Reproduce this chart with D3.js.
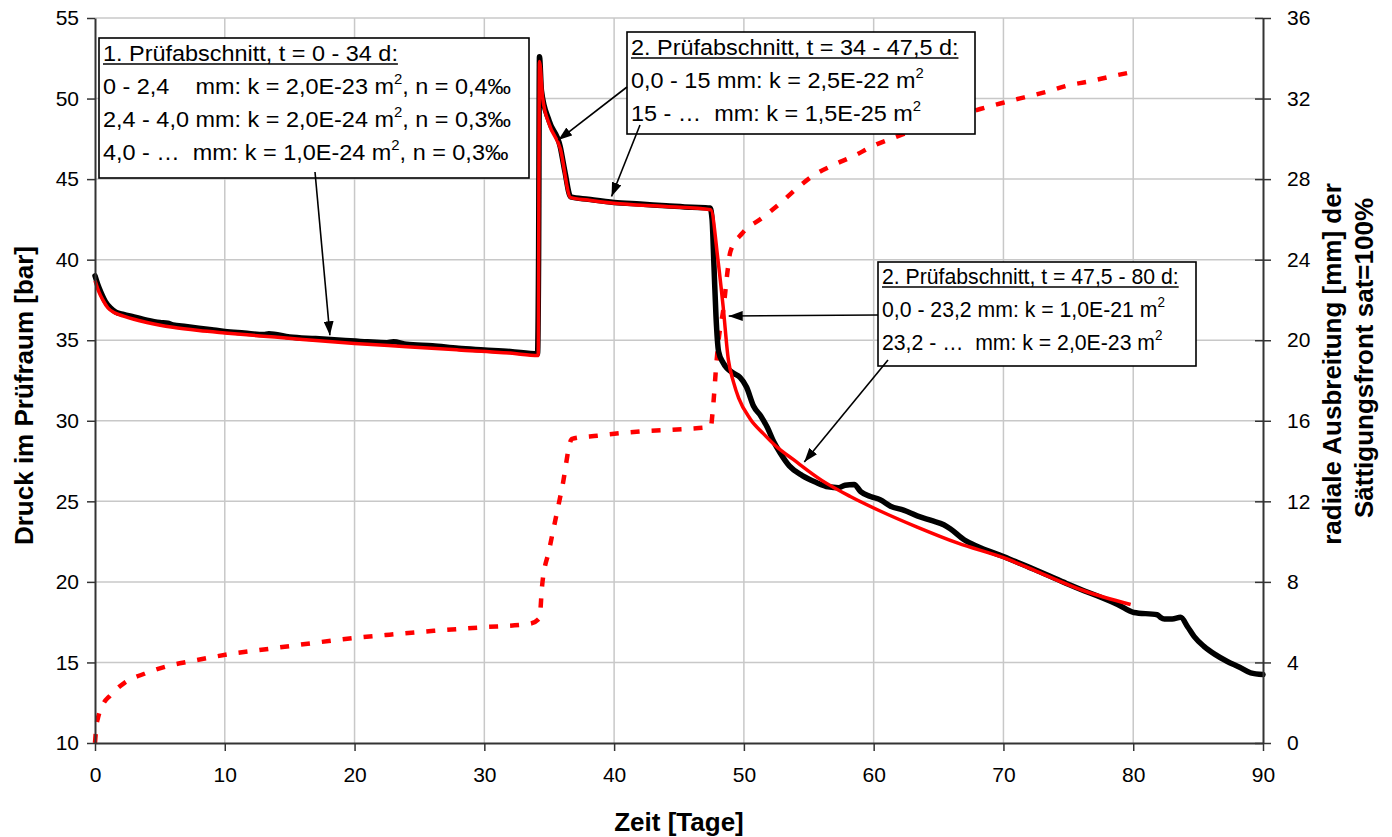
<!DOCTYPE html>
<html>
<head>
<meta charset="utf-8">
<script src="https://cdn.jsdelivr.net/npm/d3@7"></script>
<style>
  html, body { margin: 0; padding: 0; background: #fff; }
  svg text { font-family: "Liberation Sans", Arial, sans-serif; }
</style>
</head>
<body>
<script>
// Zeit [Tage] / Druck [bar] – Messung
const measT = [0, 0.2, 0.5, 0.8, 1.2, 1.6, 2.2, 3, 4, 5, 5.6, 6, 7, 8, 9, 10, 11.5, 13, 13.4, 15, 17, 19, 21, 22.5, 23, 24, 26, 28, 30, 32, 34.1,
  34.18, 34.25, 34.4, 35.0, 35.85, 36.2, 36.65, 38, 40, 42, 44, 46, 47.4,
  47.55, 47.7, 47.85, 48.05, 48.4, 49.2, 49.7, 50.2, 50.75, 51.3, 51.8, 52.3, 52.8, 53.5, 54.5, 55.5, 56.5, 57.3, 57.8, 58.5, 59.0, 59.75,
  60.5, 61.3, 62.3, 63.35, 64.5, 65.4, 65.9, 67, 68, 70, 72, 73.6, 75, 76.2, 77.5, 78.8, 80.05, 81.85, 82.1, 82.4, 83.0, 83.65, 84.2, 84.7,
  85.45, 86.3, 87.25, 88.2, 89.05, 90];
const measP = [39.0, 38.5, 37.9, 37.4, 37.0, 36.75, 36.6, 36.45, 36.25, 36.1, 36.05, 35.95, 35.85, 35.75, 35.65, 35.55, 35.45, 35.35, 35.4, 35.2, 35.1, 35.0, 34.9, 34.85, 34.9, 34.75, 34.65, 34.5, 34.4, 34.3, 34.15,
  40.0, 52.6, 50.5, 48.6, 47.0, 45.5, 43.9, 43.75, 43.55, 43.45, 43.35, 43.25, 43.2,
  42.5, 39.5, 36.5, 34.3, 33.6, 32.95, 32.7, 32.1, 30.9, 30.3, 29.6, 28.7, 28.0, 27.2, 26.6, 26.2, 25.9, 25.85, 26.0, 26.05, 25.6, 25.3,
  25.1, 24.7, 24.45, 24.1, 23.8, 23.55, 23.3, 22.6, 22.2, 21.58, 20.9, 20.35, 19.85, 19.45, 19.05, 18.6, 18.1, 17.96, 17.8, 17.7, 17.7, 17.8, 17.2, 16.6,
  16.0, 15.5, 15.06, 14.7, 14.35, 14.25];

// Berechnung (Anpassung)
const fitT = [0, 0.3, 0.6, 1.0, 1.5, 2.2, 3, 4, 6, 8, 10, 13, 16, 20, 24, 28, 32, 34.15,
  34.25, 34.5, 35.0, 35.85, 36.65, 38, 40, 44, 47.45,
  48.0, 48.4, 48.8, 49.2, 49.6, 50.5, 51.5, 52.5, 53.8, 56, 58.2, 60.5, 63.35, 66.5, 70, 73, 76.2, 79.8];
const fitP = [38.7, 38.0, 37.5, 37.0, 36.7, 36.5, 36.3, 36.1, 35.8, 35.6, 35.45, 35.25, 35.05, 34.8, 34.6, 34.4, 34.2, 34.05,
  52.3, 50.0, 48.4, 46.9, 43.85, 43.7, 43.5, 43.3, 43.1,
  40.0, 37.1, 33.8, 32.4, 31.4, 30.1, 29.2, 28.4, 27.6, 26.3, 25.3, 24.4, 23.4, 22.4, 21.5, 20.5, 19.45, 18.6];

// radiale Ausbreitung der Sättigungsfront [mm]
const frontT = [0, 0.1, 0.25, 0.6, 1.16, 2.3, 3.85, 5.5, 7.3, 9.1, 10.7, 12.5, 15.8, 19.1, 22.7, 26.1, 29.7, 33.5,
  34.25, 34.45, 35.0, 36.0, 36.75, 38.7, 42.0, 45.6, 47.45,
  47.6, 47.9, 48.05, 48.45, 48.7, 48.96, 49.86, 51.4, 52.8, 54.1, 55.4, 56.9, 58.5, 60.0, 61.7, 65.0, 68.2, 69.9, 71.6, 73.4, 74.9, 76.6, 78.3, 79.8];
const frontMM = [0, 0.8, 1.3, 1.9, 2.35, 3.0, 3.45, 3.8, 4.05, 4.27, 4.45, 4.6, 4.88, 5.15, 5.38, 5.57, 5.74, 5.92,
  6.2, 7.8, 9.6, 12.7, 15.1, 15.26, 15.47, 15.6, 15.7,
  16.5, 19.0, 20.0, 21.7, 23.2, 24.4, 25.3, 26.07, 26.8, 27.55, 28.2, 28.7, 29.16, 29.66, 30.09, 30.85, 31.48, 31.78, 32.06, 32.35, 32.64, 32.85, 33.1, 33.3];

const xTicks = [0, 10, 20, 30, 40, 50, 60, 70, 80, 90];
const yLeftTicks = [10, 15, 20, 25, 30, 35, 40, 45, 50, 55];
const yRightTicks = [0, 4, 8, 12, 16, 20, 24, 28, 32, 36];

// Textfelder: Zeilen aus [Text, hochgestellt?]
const box1Lines = [
  [["1. Prüfabschnitt, t = 0 - 34 d:", false]],
  [["0 - 2,4    mm: k = 2,0E-23 m", false], ["2", true], [", n = 0,4‰", false]],
  [["2,4 - 4,0 mm: k = 2,0E-24 m", false], ["2", true], [", n = 0,3‰", false]],
  [["4,0 - …  mm: k = 1,0E-24 m", false], ["2", true], [", n = 0,3‰", false]]
];
const box2Lines = [
  [["2. Prüfabschnitt, t = 34 - 47,5 d:", false]],
  [["0,0 - 15 mm: k = 2,5E-22 m", false], ["2", true]],
  [["15 - …  mm: k = 1,5E-25 m", false], ["2", true]]
];
const box3Lines = [
  [["2. Prüfabschnitt, t = 47,5 - 80 d:", false]],
  [["0,0 - 23,2 mm: k = 1,0E-21 m", false], ["2", true]],
  [["23,2 - …  mm: k = 2,0E-23 m", false], ["2", true]]
];

const W = 1392, H = 837;
const svg = d3.select("body").append("svg").attr("width", W).attr("height", H);
svg.append("rect").attr("width", W).attr("height", H).attr("fill", "#fff");

const x = d3.scaleLinear().domain([0, 90]).range([95, 1263]);
const yL = d3.scaleLinear().domain([10, 55]).range([743, 18]);
const yR = d3.scaleLinear().domain([0, 36]).range([743, 18]);

// Gitternetz
const grid = svg.append("g").attr("stroke", "#c8c8c8").attr("stroke-width", 1.5);
grid.selectAll("line.v").data(xTicks.filter(d => d > 0 && d < 90)).join("line")
  .attr("x1", d => x(d)).attr("x2", d => x(d)).attr("y1", yL(55)).attr("y2", yL(10));
grid.selectAll("line.h").data(yLeftTicks.filter(d => d > 10)).join("line")
  .attr("x1", x(0)).attr("x2", x(90)).attr("y1", d => yL(d)).attr("y2", d => yL(d));

// Sättigungsfront (rechte Achse)
const frontData = frontT.map((t, i) => [t, frontMM[i]]);
svg.append("path").datum(frontData)
  .attr("fill", "none").attr("stroke", "#ff0000").attr("stroke-width", 4.5)
  .attr("stroke-dasharray", "9,12")
  .attr("d", d3.line().x(d => x(d[0])).y(d => yR(d[1])).curve(d3.curveMonotoneX));

// Messung
const measData = measT.map((t, i) => [t, measP[i]]);
svg.append("path").datum(measData)
  .attr("fill", "none").attr("stroke", "#000").attr("stroke-width", 5.5)
  .attr("stroke-linejoin", "round").attr("stroke-linecap", "round")
  .attr("d", d3.line().x(d => x(d[0])).y(d => yL(d[1])).curve(d3.curveMonotoneX));

// Berechnung
const fitData = fitT.map((t, i) => [t, fitP[i]]);
svg.append("path").datum(fitData)
  .attr("fill", "none").attr("stroke", "#ff0000").attr("stroke-width", 3.5)
  .attr("stroke-linejoin", "round")
  .attr("d", d3.line().x(d => x(d[0])).y(d => yL(d[1])).curve(d3.curveMonotoneX));

// Achsen
const fontSize = 21;
const axL = svg.append("g").attr("transform", `translate(${x(0)},0)`)
  .call(d3.axisLeft(yL).tickValues(yLeftTicks).tickSize(8).tickSizeOuter(0).tickPadding(8).tickFormat(d3.format("d")));
const axR = svg.append("g").attr("transform", `translate(${x(90)},0)`)
  .call(d3.axisRight(yR).tickValues(yRightTicks).tickSize(8).tickSizeOuter(0).tickPadding(16).tickFormat(d3.format("d")));
axR.selectAll(".tick line").attr("x1", -8);
const axB = svg.append("g").attr("transform", `translate(0,${yL(10)})`)
  .call(d3.axisBottom(x).tickValues(xTicks).tickSize(8).tickSizeOuter(0).tickPadding(16).tickFormat(d3.format("d")));
[axL, axR, axB].forEach(a => {
  a.select(".domain").attr("stroke", "#333").attr("stroke-width", 2);
  a.selectAll(".tick line").attr("stroke", "#333").attr("stroke-width", 1.5);
  a.selectAll(".tick text").attr("font-size", fontSize).attr("fill", "#000")
    .attr("font-family", "Liberation Sans, Arial, sans-serif");
});

// Achsentitel
svg.append("text").attr("transform", `translate(33,${(yL(10) + yL(55)) / 2 + 15}) rotate(-90)`)
  .attr("text-anchor", "middle").attr("font-size", 26).attr("font-weight", "bold")
  .text("Druck im Prüfraum [bar]");
svg.append("text").attr("x", (x(0) + x(90)) / 2).attr("y", 831)
  .attr("text-anchor", "middle").attr("font-size", 26).attr("font-weight", "bold")
  .text("Zeit [Tage]");
svg.append("text").attr("transform", `translate(1341,364) rotate(-90)`)
  .attr("text-anchor", "middle").attr("font-size", 26).attr("font-weight", "bold")
  .text("radiale Ausbreitung [mm] der");
svg.append("text").attr("transform", `translate(1373,358) rotate(-90)`)
  .attr("text-anchor", "middle").attr("font-size", 26).attr("font-weight", "bold")
  .text("Sättigungsfront sat=100%");

// Pfeilspitze
svg.append("defs").append("marker")
  .attr("id", "head").attr("markerUnits", "userSpaceOnUse")
  .attr("viewBox", "0 0 14 10").attr("refX", 14).attr("refY", 5)
  .attr("markerWidth", 14).attr("markerHeight", 10).attr("orient", "auto")
  .append("path").attr("d", "M0,0 L14,5 L0,10 Z").attr("fill", "#000");

function textBox(x0, y0, x1, y1, tx, baselines, lines, stretch) {
  const g = svg.append("g");
  g.append("rect").attr("x", x0).attr("y", y0).attr("width", x1 - x0).attr("height", y1 - y0)
    .attr("fill", "#fff").attr("stroke", "#000").attr("stroke-width", 1.6);
  lines.forEach((parts, i) => {
    const t = g.append("text").attr("x", 0).attr("y", baselines[i])
      .attr("transform", `translate(${tx},0) scale(${stretch},1)`)
      .attr("font-size", 22).attr("fill", "#000").style("white-space", "pre");
    parts.forEach(([s, sup]) => {
      if (sup) {
        t.append("tspan").attr("font-size", 14).attr("dy", -10).text(s);
      } else {
        const sp = t.append("tspan").text(s);
        if (t.selectAll("tspan").size() > 1) sp.attr("dy", 10);
      }
    });
    if (i === 0) {
      const w = t.node().getComputedTextLength() * stretch;
      g.append("line").attr("x1", tx).attr("x2", tx + w)
        .attr("y1", baselines[i] + 3).attr("y2", baselines[i] + 3)
        .attr("stroke", "#000").attr("stroke-width", 1.6);
    }
  });
}

function arrow(x1, y1, x2, y2) {
  svg.append("line").attr("x1", x1).attr("y1", y1).attr("x2", x2).attr("y2", y2)
    .attr("stroke", "#000").attr("stroke-width", 1.6).attr("marker-end", "url(#head)");
}

textBox(99, 38, 529, 178, 103, [61, 94, 127, 160], box1Lines, 1.065);
textBox(627, 32, 975, 134, 631, [55, 88, 121], box2Lines, 1.065);
textBox(878, 262, 1196, 366, 882, [284, 317, 350], box3Lines, 0.965);

arrow(315, 172, x(18.1), yL(35.0) - 5);
arrow(627, 87, x(35.7), yL(47.3) - 2);
arrow(640, 125, x(39.8), yL(43.55) - 6);
arrow(878, 315, x(48.6) + 3, yL(36.5));
arrow(888, 360, x(54.5) + 2, yL(27.2) - 4);
</script>
</body>
</html>
